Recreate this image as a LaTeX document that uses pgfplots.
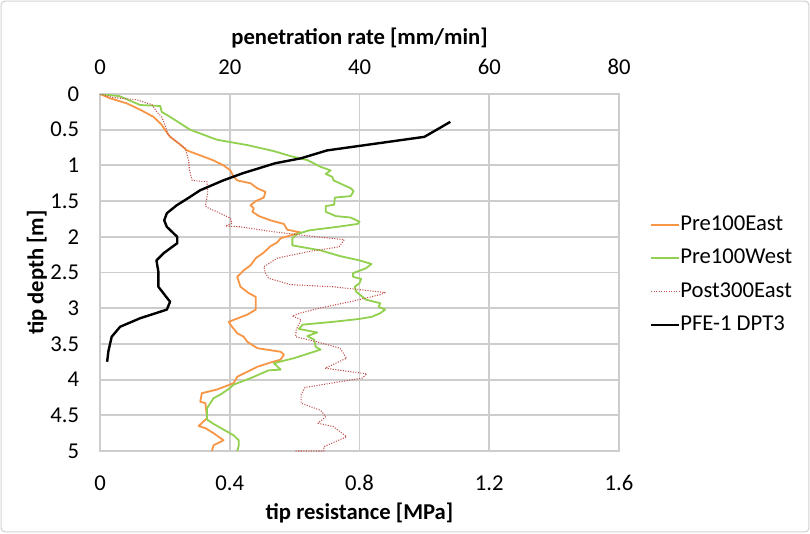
\documentclass[border=0pt]{standalone}
\usepackage{pgfplots}
\pgfplotsset{compat=1.18}
\usepackage{fontspec}
\setmainfont{Carlito}
\definecolor{gridc}{RGB}{205,205,205}
\definecolor{framec}{RGB}{210,210,210}
\definecolor{orangec}{RGB}{247,150,70}
\definecolor{greenc}{RGB}{146,208,80}
\definecolor{redc}{RGB}{192,80,77}
\begin{document}
\begin{tikzpicture}
\path[use as bounding box] (-75pt,-61.5pt) rectangle (532.5pt,338.25pt);
\draw[framec, line width=0.8pt, rounded corners=3pt] (-74.2pt,-60.7pt) rectangle (531.7pt,337.45pt);
\pgfplotsset{
  every axis/.append style={
    scale only axis, width=389.25pt, height=267.75pt,
    at={(0,0)}, anchor=south west,
    ymin=0, ymax=5, y dir=reverse,
    major tick length=0pt,
    tick label style={font=\fontsize{17}{20}\selectfont},
    label style={font=\bfseries\fontsize{17}{20}\selectfont},
    /pgf/number format/assume math mode=true,
  }
}
\begin{axis}[
  xmin=0, xmax=1.6,
  xtick={0,0.4,0.8,1.2,1.6},
  xticklabels={0,0.4,0.8,1.2,1.6},
  ytick={0,0.5,1,1.5,2,2.5,3,3.5,4,4.5,5},
  yticklabels={0,0.5,1,1.5,2,2.5,3,3.5,4,4.5,5},
  xmajorgrids, ymajorgrids,
  major grid style={draw=gridc, line width=1.4pt},
  axis line style={draw=gridc, line width=1.4pt},
  xticklabel style={anchor=center, yshift=-24pt},
  yticklabel style={anchor=east, inner sep=0pt, xshift=-15.5pt},
  xlabel={tip resistance [MPa]},
  ylabel={tip depth [m]},
  xlabel style={at={(axis description cs:0.5,-0.1737)}, anchor=center},
  ylabel style={at={(axis description cs:-0.1214,0.5)}, anchor=center},
  legend style={at={(axis description cs:1.059,0.493)}, anchor=west, draw=none, fill=none,
    inner sep=0pt, font=\fontsize{17}{20}\selectfont, row sep=9.6pt,
    nodes={inner sep=0pt, text height=12pt, text depth=3.5pt}},
  legend cell align=left,
  legend image code/.code={\draw[#1] (0pt,0pt) -- (21pt,0pt);},
]
\addplot[orangec, line width=1.35pt, line join=round] coordinates {
(0,0) (0.031,0.06) (0.082,0.13) (0.124,0.22) (0.165,0.32) (0.19,0.43) (0.20,0.50)
(0.216,0.60) (0.242,0.69) (0.268,0.79) (0.309,0.86) (0.35,0.93) (0.381,1.0)
(0.402,1.07) (0.412,1.16) (0.423,1.21) (0.464,1.25) (0.485,1.32) (0.51,1.37)
(0.505,1.45) (0.48,1.50) (0.464,1.56) (0.474,1.60) (0.47,1.65) (0.49,1.71)
(0.526,1.77) (0.567,1.82) (0.577,1.90) (0.619,1.94) (0.588,1.98) (0.557,2.02)
(0.546,2.08) (0.526,2.13) (0.505,2.22) (0.48,2.30) (0.464,2.40) (0.443,2.47)
(0.423,2.56) (0.433,2.70) (0.459,2.79) (0.48,2.84) (0.48,3.02) (0.454,3.09)
(0.397,3.19) (0.407,3.26) (0.423,3.35) (0.443,3.40) (0.454,3.47) (0.485,3.56)
(0.557,3.61) (0.567,3.65) (0.557,3.72) (0.526,3.76) (0.485,3.82) (0.454,3.89)
(0.423,3.96) (0.412,4.05) (0.36,4.14) (0.314,4.19) (0.309,4.31) (0.325,4.33)
(0.33,4.54) (0.304,4.65) (0.325,4.68) (0.35,4.75) (0.381,4.85) (0.35,4.92) (0.345,5.0)
};
\addlegendentry{Pre100East}
\addplot[greenc, line width=1.35pt, line join=round] coordinates {
(0,0) (0.06,0.03) (0.124,0.154) (0.186,0.168) (0.19,0.25) (0.216,0.32) (0.278,0.50)
(0.36,0.64) (0.454,0.715) (0.536,0.80) (0.588,0.87) (0.639,0.925) (0.68,1.02)
(0.711,1.07) (0.696,1.12) (0.716,1.16) (0.72,1.21) (0.773,1.32) (0.782,1.36)
(0.773,1.43) (0.724,1.45) (0.722,1.55) (0.696,1.57) (0.696,1.65) (0.727,1.71)
(0.773,1.73) (0.80,1.79) (0.794,1.82) (0.732,1.86) (0.645,1.91) (0.608,1.96)
(0.593,2.02) (0.593,2.12) (0.68,2.19) (0.74,2.27) (0.80,2.33) (0.837,2.38)
(0.82,2.44) (0.78,2.51) (0.78,2.56) (0.805,2.59) (0.80,2.65) (0.785,2.70)
(0.79,2.77) (0.82,2.88) (0.864,2.93) (0.859,2.98) (0.879,3.02) (0.864,3.07)
(0.838,3.12) (0.80,3.15) (0.72,3.19) (0.625,3.23) (0.613,3.29) (0.67,3.34)
(0.639,3.39) (0.66,3.44) (0.665,3.54) (0.68,3.58) (0.598,3.70) (0.536,3.77)
(0.557,3.86) (0.52,3.87) (0.464,3.98) (0.412,4.07) (0.40,4.12) (0.371,4.21)
(0.35,4.26) (0.34,4.33) (0.33,4.40) (0.33,4.56) (0.35,4.62) (0.381,4.70)
(0.412,4.78) (0.428,4.85) (0.428,4.92) (0.423,5.0)
};
\addlegendentry{Pre100West}
\addplot[redc, line width=0.8pt, dash pattern=on 0.8pt off 1.1pt, line join=round] coordinates {
(0,0) (0.041,0.05) (0.113,0.08) (0.16,0.15) (0.175,0.25) (0.19,0.32) (0.20,0.43)
(0.21,0.57) (0.237,0.67) (0.263,0.76) (0.273,0.93) (0.276,1.07) (0.284,1.21)
(0.33,1.23) (0.332,1.39) (0.325,1.57) (0.335,1.60) (0.361,1.65) (0.402,1.74)
(0.407,1.81) (0.387,1.85) (0.433,1.86) (0.536,1.93) (0.629,1.98) (0.753,2.04)
(0.737,2.14) (0.639,2.21) (0.546,2.30) (0.505,2.42) (0.51,2.51) (0.52,2.58)
(0.587,2.67) (0.72,2.70) (0.879,2.78) (0.864,2.81) (0.77,2.91) (0.676,3.0)
(0.616,3.07) (0.593,3.11) (0.62,3.16) (0.605,3.30) (0.603,3.40) (0.668,3.47)
(0.74,3.56) (0.76,3.70) (0.694,3.84) (0.823,3.92) (0.808,3.98) (0.74,4.03)
(0.632,4.11) (0.62,4.21) (0.62,4.33) (0.68,4.43) (0.696,4.52) (0.672,4.61)
(0.72,4.66) (0.76,4.80) (0.69,4.94) (0.69,5.0) (0.60,5.0)
};
\addlegendentry{Post300East}
\addlegendimage{black, line width=1.8pt}
\addlegendentry{PFE-1 DPT3}
\end{axis}
\begin{axis}[
  xmin=0, xmax=80,
  axis x line*=top,
  axis line style={draw=none},
  hide y axis,
  xtick={0,20,40,60,80},
  xticklabels={0,20,40,60,80},
  xticklabel style={anchor=center, yshift=20.25pt},
  xlabel={penetration rate [mm/min]},
  xlabel style={at={(axis description cs:0.5,1.1569)}, anchor=center},
]
\addplot[black, line width=1.8pt, line join=round] coordinates {
(54,0.39) (50,0.60) (35,0.79) (31,0.90) (27,0.97) (22,1.11) (19,1.21) (15.4,1.35)
(13.9,1.44) (11.8,1.56) (10.3,1.67) (9.9,1.77) (10.3,1.86) (11.9,2.0) (11.9,2.09)
(9.8,2.23) (8.7,2.33) (9.0,2.49) (9.0,2.70) (10.8,2.91) (10.3,3.02) (6.2,3.14)
(3.1,3.26) (1.8,3.40) (1.3,3.60) (1.1,3.75)
};
\end{axis}
\end{tikzpicture}
\end{document}
